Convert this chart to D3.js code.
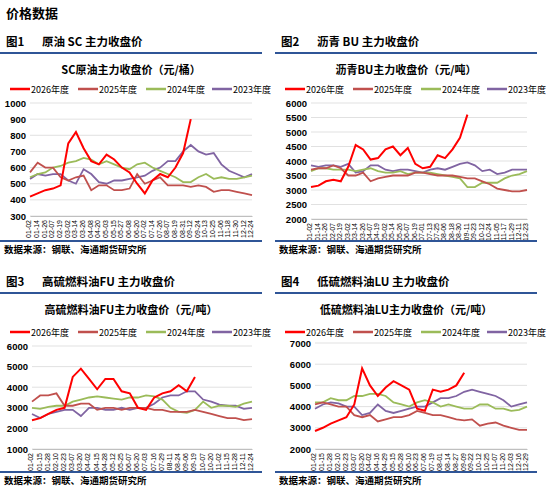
<!DOCTYPE html>
<html><head><meta charset="utf-8">
<script src="https://cdn.jsdelivr.net/npm/d3@7"></script>
<style>body{margin:0;background:#fff;font-family:"Noto Sans CJK SC",sans-serif}</style>
</head><body><svg id="c" width="550" height="499"></svg>
<script>
var seriesNames = ["2026年度", "2025年度", "2024年度", "2023年度"];
var colors = ["#ff0000", "#c0504d", "#9bbb59", "#8064a2"];

// 图1 SC
var scTicks = ["01-02","01-14","01-26","02-07","02-19","03-02","03-14","03-26","04-08","04-20","05-03","05-15","05-27","06-08","06-20","07-02","07-14","07-26","08-07","08-19","08-31","09-12","09-24","10-13","10-25","11-06","11-18","11-30","12-12","12-24"];
var sc2026 = [420,440,460,470,490,750,820,720,640,620,680,650,600,570,500,440,520,560,540,600,690,900];
var sc2025 = [570,630,600,600,540,520,540,550,460,490,490,460,460,470,560,500,520,540,490,490,490,480,490,480,450,460,460,450,440,430];
var sc2024 = [540,560,570,600,610,630,640,660,650,620,640,620,600,590,620,630,600,580,560,540,510,510,540,560,530,540,530,530,540,550];
var sc2023 = [530,560,550,560,560,520,500,590,560,510,500,520,520,530,540,550,580,600,640,640,700,740,700,680,690,620,580,560,540,560];

// 图2 BU
var buTicks = ["01-02","01-14","01-26","02-07","02-19","03-02","03-14","03-26","04-07","04-19","05-02","05-14","05-26","06-07","06-19","07-01","07-13","07-25","08-06","08-18","08-30","09-11","09-23","10-12","10-24","11-05","11-17","11-29","12-11","12-23"];
var bu2026 = [3100,3150,3300,3350,3300,3800,4550,4400,4050,4100,4400,4500,4200,4450,3900,3750,3800,4200,4100,4400,4800,5600];
var bu2025 = [3700,3750,3750,3850,3750,3500,3500,3600,3300,3400,3450,3500,3500,3500,3600,3600,3550,3500,3500,3500,3450,3400,3400,3300,3200,3050,3000,2950,2950,3000];
var bu2024 = [3650,3750,3750,3700,3700,3700,3650,3700,3750,3650,3600,3600,3650,3550,3600,3600,3600,3550,3500,3450,3400,3100,3100,3250,3250,3250,3400,3500,3550,3650];
var bu2023 = [3850,3800,3850,3850,3800,3900,3600,3650,3850,3850,3700,3650,3700,3700,3650,3600,3700,3750,3700,3800,3900,3950,3850,3650,3700,3550,3600,3700,3700,3700];

// 图3 FU
var fuTicks = ["01-02","01-15","01-28","02-10","02-23","03-07","03-20","04-02","04-15","04-28","05-12","05-25","06-07","06-20","07-03","07-16","07-29","08-11","08-24","09-06","09-19","10-07","10-20","11-02","11-15","11-28","12-11","12-24"];
var fu2026 = [2400,2500,2700,2900,3000,4500,4900,4400,3900,4400,4400,3800,3700,3000,2900,3500,3700,3800,4100,3800,4500];
var fu2025 = [3300,3600,3600,3700,3100,3100,3200,3200,2900,3000,3000,2900,3000,3000,3000,2900,2900,2800,2800,2800,2900,2800,2700,2600,2500,2500,2400,2450];
var fu2024 = [3000,2950,3050,3100,3100,3300,3400,3500,3550,3500,3450,3400,3500,3500,3600,3550,3400,3000,2800,2750,2900,3300,3000,3100,3100,3050,3200,3300];
var fu2023 = [2700,2500,2700,2800,2900,2900,2600,3000,3000,2900,2900,3000,2900,3000,3000,3200,3500,3600,3600,3800,3800,3400,3300,3150,3100,3100,2950,3000];

// 图4 LU
var luTicks = ["01-02","01-15","01-28","02-10","02-23","03-07","03-20","04-02","04-16","04-29","05-15","05-28","06-10","06-23","07-06","07-19","08-01","08-14","08-27","09-09","09-22","10-12","10-25","11-07","11-20","12-03","12-16","12-29"];
var lu2026 = [2850,3000,3200,3350,3500,4100,5800,5000,4500,4900,5200,5000,4800,3900,3800,4800,4700,4800,5000,5600];
var lu2025 = [4100,4200,4100,4000,4000,3600,3500,3600,3300,3400,3500,3500,3600,3800,3700,3600,3600,3500,3400,3350,3400,3100,3200,3250,3100,3000,2900,2900];
var lu2024 = [4200,4200,4400,4300,4300,4500,4500,4600,4600,4500,4200,4100,4000,4200,4300,4200,4000,4100,4000,3900,3900,4100,4100,3900,3900,3800,3850,4000];
var lu2023 = [3900,4100,4200,4150,4000,4000,3600,3700,4100,3800,3700,3800,3900,4000,4000,4200,4400,4400,4500,4700,4800,4700,4600,4500,4300,4000,4100,4200];

var svg = d3.select("#c");
svg.append("text").attr("x", 6).attr("y", 18).attr("font-size", 13).attr("font-weight", "bold").text("价格数据");

function drawPanel(cfg) {
  var g = svg.append("g").attr("transform", "translate(" + cfg.x + "," + cfg.y + ")");
  g.append("text").attr("x", 6).attr("y", 16).attr("font-size", 11.5).attr("font-weight", "bold").text(cfg.fig);
  g.append("text").attr("x", 42).attr("y", 16).attr("font-size", 11.5).attr("font-weight", "bold").text(cfg.head);
  g.append("line").attr("x1", 0).attr("x2", 262).attr("y1", 23).attr("y2", 23).attr("stroke", "#2f5597").attr("stroke-width", 2);
  g.append("text").attr("x", 131).attr("y", 44).attr("text-anchor", "middle").attr("font-size", 11).attr("font-weight", "bold").text(cfg.title);

  // legend
  var lx = [10, 78, 146, 212];
  seriesNames.forEach(function (n, i) {
    g.append("line").attr("x1", lx[i]).attr("x2", lx[i] + 20).attr("y1", cfg.legY).attr("y2", cfg.legY)
      .attr("stroke", colors[i]).attr("stroke-width", 2.5);
    g.append("text").attr("x", lx[i] + 21).attr("y", cfg.legY + 4).attr("font-size", 9).text(n);
  });

  var x = d3.scalePoint().domain(d3.range(cfg.ticks.length)).range([cfg.left, 252]);
  var y = d3.scaleLinear().domain(cfg.domain).range([cfg.bottom, cfg.top]);

  y.ticks(cfg.nTicks).forEach(function (t) {
    g.append("line").attr("x1", cfg.left).attr("x2", 252).attr("y1", y(t)).attr("y2", y(t)).attr("stroke", "#d9d9d9").attr("stroke-width", 0.8);
  });
  g.append("g").attr("transform", "translate(" + cfg.left + ",0)")
    .call(d3.axisLeft(y).ticks(cfg.nTicks).tickFormat(d3.format("d")).tickSize(0).tickPadding(4))
    .call(function (a) { a.select(".domain").remove(); a.selectAll("text").attr("font-size", 9.5).attr("font-weight", "bold").attr("fill", "#000"); });

  var xa = g.append("g").attr("transform", "translate(0," + cfg.bottom + ")")
    .call(d3.axisBottom(x).tickSize(0).tickFormat(function (i) { return cfg.ticks[i]; }));
  xa.select(".domain").attr("stroke", "#bfbfbf");
  xa.selectAll("text").attr("font-size", 7).attr("fill", "#000").attr("text-anchor", "end")
    .attr("transform", "rotate(-90)").attr("dx", "-4").attr("dy", "-0.3em");

  var line = d3.line().x(function (d, i) { return x(i); }).y(function (d) { return y(d); });
  [3, 2, 1, 0].forEach(function (i) {
    g.append("path").datum(cfg.data[i]).attr("d", line).attr("fill", "none")
      .attr("stroke", colors[i]).attr("stroke-width", i === 0 ? 2 : 1.8);
  });

  g.append("line").attr("x1", 0).attr("x2", 262).attr("y1", cfg.foot - 9).attr("y2", cfg.foot - 9).attr("stroke", "#2f5597").attr("stroke-width", 2);
  g.append("text").attr("x", 4).attr("y", cfg.foot + 3).attr("font-size", 9.5).attr("font-weight", "bold").text("数据来源：钢联、海通期货研究所");
}

drawPanel({ x: 0, y: 30, fig: "图1", head: "原油 SC 主力收盘价", title: "SC原油主力收盘价（元/桶）", legY: 59,
  ticks: scTicks, data: [sc2026, sc2025, sc2024, sc2023], domain: [300, 1000], nTicks: 7, left: 30, top: 73, bottom: 186, foot: 220 });
drawPanel({ x: 275, y: 30, fig: "图2", head: "沥青 BU 主力收盘价", title: "沥青BU主力收盘价（元/吨）", legY: 59,
  ticks: buTicks, data: [bu2026, bu2025, bu2024, bu2023], domain: [2000, 6000], nTicks: 8, left: 36, top: 73, bottom: 189, foot: 220 });
drawPanel({ x: 0, y: 270, fig: "图3", head: "高硫燃料油FU 主力收盘价", title: "高硫燃料油FU主力收盘价（元/吨）", legY: 62,
  ticks: fuTicks, data: [fu2026, fu2025, fu2024, fu2023], domain: [1000, 6000], nTicks: 5, left: 32, top: 76, bottom: 179, foot: 211 });
drawPanel({ x: 275, y: 270, fig: "图4", head: "低硫燃料油LU 主力收盘价", title: "低硫燃料油LU主力收盘价（元/吨）", legY: 62,
  ticks: luTicks, data: [lu2026, lu2025, lu2024, lu2023], domain: [2000, 7000], nTicks: 5, left: 40, top: 73, bottom: 179, foot: 211 });
</script></body></html>
